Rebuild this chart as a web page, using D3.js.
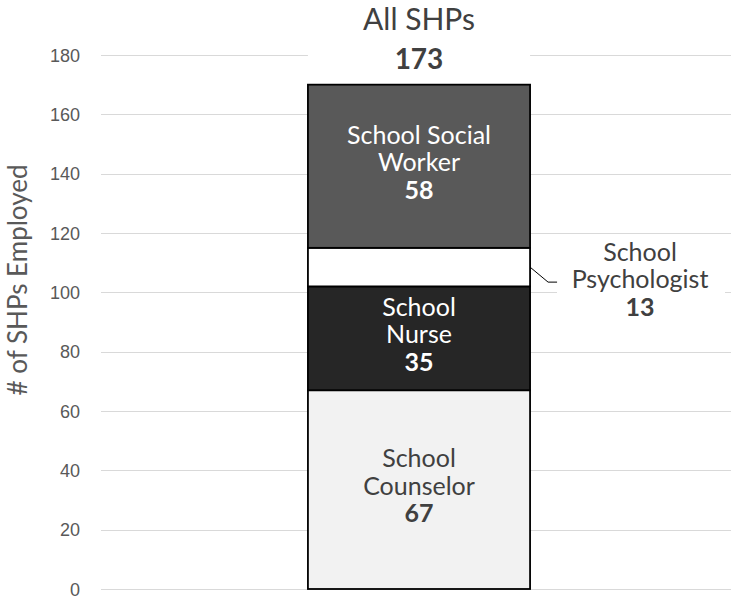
<!DOCTYPE html>
<html>
<head>
<meta charset="utf-8">
<script src="https://cdn.jsdelivr.net/npm/d3@7"></script>
<style>
  body { margin: 0; background: #fff; }
  svg { display: block; font-family: Lato, "Open Sans", sans-serif; }
  .y.axis text { fill: #595959; font-size: 18px; }
  .grid line { stroke: #d9d9d9; stroke-width: 1; }
</style>
</head>
<body>
<svg class="shp-chart" width="731" height="598"></svg>
<script>
// data
var categories = ['All SHPs'];
var roles = ['School Counselor', 'School Nurse', 'School Psychologist', 'School Social Worker'];
var heights = [67, 35, 13, 55];      // drawn segment heights
var counts = [67, 35, 13, 58];       // printed labels
var total = 173;
var yTicks = [0, 20, 40, 60, 80, 100, 120, 140, 160, 180];

var fills = ['#f2f2f2', '#262626', '#ffffff', '#595959'];
var textFill = ['#404040', '#ffffff', '#404040', '#ffffff'];
var labelLines = [['School', 'Counselor'], ['School', 'Nurse'], ['School', 'Psychologist'], ['School Social', 'Worker']];

var svg = d3.select('.shp-chart');

var yScale = d3.scaleLinear()
  .domain([0, 180])
  .range([589, 55]);

var xScale = d3.scaleBand()
  .domain(categories)
  .range([108, 730])
  .paddingInner(0)
  .paddingOuter(0.9);

// gridlines
svg.append('g')
  .attr('class', 'grid')
  .selectAll('line')
  .data(yTicks)
  .enter().append('line')
    .attr('x1', 101)
    .attr('x2', 731)
    .attr('y1', function(d) { return Math.round(yScale(d)) + 0.5; })
    .attr('y2', function(d) { return Math.round(yScale(d)) + 0.5; });

// y axis
var y_axis = d3.axisLeft(yScale)
  .tickValues(yTicks)
  .tickSize(0)
  .tickPadding(0);

svg.append('g')
  .attr('class', 'y axis')
  .attr('transform', 'translate(80,0)')
  .call(y_axis)
  .call(function(g) { g.select('.domain').remove(); })
  .selectAll('text')
    .attr('dy', '0.34em');

svg.append('text')
  .text('# of SHPs Employed')
  .attr('transform', 'translate(27,280) rotate(-90)')
  .attr('text-anchor', 'middle')
  .style('font-size', '26px')
  .style('fill', '#595959');

// stacked segments
var stack = [];
var acc = 0;
heights.forEach(function(h, i) {
  stack.push({ y0: acc, y1: acc + h, i: i });
  acc += h;
});

var x0 = xScale(categories[0]);
var bw = xScale.bandwidth();
var cx = x0 + bw / 2;

svg.selectAll('.seg')
  .data(stack)
  .enter().append('rect')
    .attr('class', 'seg')
    .attr('x', x0)
    .attr('width', bw)
    .attr('y', function(d) { return yScale(d.y1); })
    .attr('height', function(d) { return yScale(d.y0) - yScale(d.y1); })
    .style('fill', function(d) { return fills[d.i]; })
    .style('stroke', '#000')
    .style('stroke-width', 1.8);

// white box behind total label (hides the 180 gridline)
svg.append('rect')
  .attr('x', x0)
  .attr('width', bw)
  .attr('y', 44)
  .attr('height', 34)
  .style('fill', '#fff');

svg.append('text')
  .text(categories[0])
  .attr('x', cx)
  .attr('y', 30)
  .attr('text-anchor', 'middle')
  .style('font-size', '30px')
  .style('fill', '#404040');

svg.append('text')
  .text(total)
  .attr('x', cx)
  .attr('y', 69)
  .attr('text-anchor', 'middle')
  .style('font-size', '28px')
  .style('font-weight', 'bold')
  .style('fill', '#404040');

// labels inside the bar
stack.forEach(function(d) {
  if (d.i === 2) return;
  var mid = (yScale(d.y0) + yScale(d.y1)) / 2 + 5;
  var t = svg.append('text')
    .attr('text-anchor', 'middle')
    .style('font-size', '25px')
    .style('fill', textFill[d.i]);
  var lines = labelLines[d.i];
  lines.forEach(function(l, k) {
    t.append('tspan')
      .attr('x', cx)
      .attr('y', mid + (k - 1) * 27.5)
      .text(l);
  });
  t.append('tspan')
    .attr('x', cx)
    .attr('y', mid + 27.5)
    .style('font-weight', 'bold')
    .text(counts[d.i]);
});

// psychologist callout
var ps = stack[2];
var psMid = (yScale(ps.y0) + yScale(ps.y1)) / 2;
var px = 640;

svg.append('rect')
  .attr('x', 557)
  .attr('width', 168)
  .attr('y', psMid - 32)
  .attr('height', 90)
  .style('fill', '#fff');

svg.append('polyline')
  .attr('points', [[x0 + bw, psMid], [x0 + bw + 18, psMid + 15], [x0 + bw + 27, psMid + 15]].join(' '))
  .style('fill', 'none')
  .style('stroke', '#000')
  .style('stroke-width', 1);

var pt = svg.append('text')
  .attr('text-anchor', 'middle')
  .style('font-size', '25px')
  .style('fill', '#404040');
labelLines[2].forEach(function(l, k) {
  pt.append('tspan')
    .attr('x', px)
    .attr('y', psMid + 21 + (k - 1) * 27.5)
    .text(l);
});
pt.append('tspan')
  .attr('x', px)
  .attr('y', psMid + 21 + 28)
  .style('font-weight', 'bold')
  .text(counts[2]);
</script>
</body>
</html>
